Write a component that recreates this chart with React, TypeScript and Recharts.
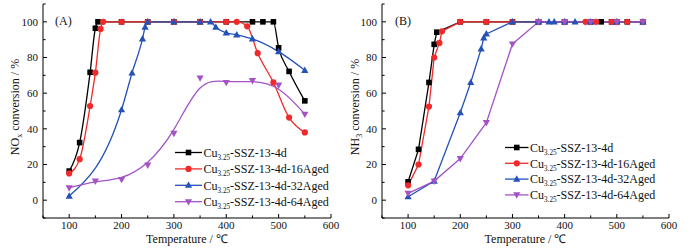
import React from 'react';
import { LineChart, Line, XAxis, YAxis, Legend } from 'recharts';

const FONT = '"Liberation Serif", "Times New Roman", Times, serif';
const TEXT = '#111';

// ---- series meta ----
const legendBase = 'Cu';
const legendSub = '3.25';
const legendSuffix = ['-SSZ-13-4d', '-SSZ-13-4d-16Aged', '-SSZ-13-4d-32Aged', '-SSZ-13-4d-64Aged'];
const colors = ['#000000', '#f02a2a', '#2452b8', '#a453c4'];
const markers = ['square', 'circle', 'triangle', 'triangleDown'];
const curveA = ['monotone', 'monotone', 'monotone', 'basis'];

// ---- axes ----
const xTicks = [50, 100, 150, 200, 250, 300, 350, 400, 450, 500, 550, 600];
const xLabels = [100, 200, 300, 400, 500, 600];
const yTicks = [-10, 0, 10, 20, 30, 40, 50, 60, 70, 80, 90, 100, 110];
const yLabels = [0, 20, 40, 60, 80, 100];

// ---- Panel A: NOx conversion ----
const aT0 = [100, 120, 140, 150, 155, 200, 250, 300, 350, 400, 450, 470, 490, 500, 520, 550];
const aV0 = [16.3, 32.3, 71.7, 96.4, 100, 100, 100, 100, 100, 100, 100, 100, 100, 85.4, 72.2, 55.7];
const aT1 = [100, 120, 140, 150, 160, 165, 200, 250, 300, 350, 400, 420, 440, 460, 490, 520, 550];
const aV1 = [15, 23, 52.8, 71.5, 96, 100, 100, 100, 100, 100, 100, 100, 97.5, 82.4, 66, 46.3, 38];
const aT2 = [100, 200, 220, 240, 245, 250, 300, 350, 370, 380, 400, 420, 450, 500, 550];
const aV2 = [2.3, 50.7, 71.3, 90.4, 97, 100, 100, 100, 100, 97, 93.8, 92.7, 90.4, 83.3, 72.8];
const aT3 = [100, 150, 200, 250, 300, 350, 400, 450, 500, 550];
const aV3 = [6.9, 10.7, 11.6, 19.7, 37.5, 68.5, 66, 67, 64.5, 48.2];

// ---- Panel B: NH3 conversion ----
const bT0 = [100, 120, 140, 150, 155, 200, 250, 300, 350, 400, 450, 470, 490, 500, 520, 550];
const bV0 = [10.3, 28.5, 66, 87.4, 94.2, 100, 100, 100, 100, 100, 100, 100, 100, 100, 100, 100];
const bT1 = [100, 120, 140, 150, 160, 165, 200, 250, 300, 350, 400, 440, 460, 490, 500, 520, 550];
const bV1 = [8.3, 20, 52.5, 80, 88.2, 94.7, 100, 100, 100, 100, 100, 100, 100, 100, 100, 100, 100];
const bT2 = [100, 150, 200, 220, 240, 245, 250, 300, 350, 370, 380, 400, 420, 450, 500, 550];
const bV2 = [1.9, 10.7, 49, 66, 84.8, 91, 93.2, 100, 100, 100, 100, 100, 100, 100, 100, 100];
const bT3 = [100, 150, 200, 250, 300, 350, 400, 450, 500, 550];
const bV3 = [3.8, 10.7, 23.3, 43.5, 87.6, 100, 100, 100, 100, 100];

const zip = (t: number[], v: number[]) => t.map((x, i) => ({ x, y: v[i] }));
const panelA = [zip(aT0, aV0), zip(aT1, aV1), zip(aT2, aV2), zip(aT3, aV3)];
const panelB = [zip(bT0, bV0), zip(bT1, bV1), zip(bT2, bV2), zip(bT3, bV3)];

function Marker({ kind, cx, cy, color }: { kind: string; cx: number; cy: number; color: string }) {
  if (kind === 'square') {
    const s = 5.6;
    return <rect x={cx - s / 2} y={cy - s / 2} width={s} height={s} fill={color} />;
  }
  if (kind === 'circle') {
    return <circle cx={cx} cy={cy} r={3.1} fill={color} />;
  }
  const w = 7.2;
  const h = 6.4;
  if (kind === 'triangle') {
    return (
      <polygon
        points={`${cx},${cy - h * 0.6} ${cx - w / 2},${cy + h * 0.4} ${cx + w / 2},${cy + h * 0.4}`}
        fill={color}
      />
    );
  }
  return (
    <polygon
      points={`${cx},${cy + h * 0.6} ${cx - w / 2},${cy - h * 0.4} ${cx + w / 2},${cy - h * 0.4}`}
      fill={color}
    />
  );
}

const makeDot = (i: number) => (props: any) => {
  const { cx, cy, index } = props;
  if (cx == null || cy == null) return <g key={`d${i}-${index}`} />;
  return (
    <g key={`d${i}-${index}`}>
      <Marker kind={markers[i]} cx={cx} cy={cy} color={colors[i]} />
    </g>
  );
};

const XTick = (props: any) => {
  const { x, y, payload } = props;
  const v = payload.value;
  const major = xLabels.includes(v);
  return (
    <g>
      <line x1={x} x2={x} y1={y} y2={y - (major ? 4 : 2.6)} stroke="#000" strokeWidth={1} />
      {major && (
        <text x={x} y={y + 11} textAnchor="middle" fontSize={11} fontFamily={FONT} fill={TEXT}>
          {v}
        </text>
      )}
    </g>
  );
};

const YTick = (props: any) => {
  const { x, y, payload } = props;
  const v = payload.value;
  const major = yLabels.includes(v);
  return (
    <g>
      <line x1={x} x2={x + (major ? 4 : 2.6)} y1={y} y2={y} stroke="#000" strokeWidth={1} />
      {major && (
        <text x={x - 5} y={y + 3.8} textAnchor="end" fontSize={11} fontFamily={FONT} fill={TEXT}>
          {v}
        </text>
      )}
    </g>
  );
};

function LegendBox({ lineLen, rowGap, firstRow }: { lineLen: number; rowGap: number; firstRow: number }) {
  return (
    <svg width={170} height={70} style={{ overflow: 'visible', display: 'block' }}>
      {legendSuffix.map((s, i) => {
        const cy = firstRow + i * rowGap;
        return (
          <g key={s}>
            <line x1={1} x2={1 + lineLen} y1={cy} y2={cy} stroke={colors[i]} strokeWidth={1.3} />
            <Marker kind={markers[i]} cx={1 + lineLen / 2} cy={cy} color={colors[i]} />
            <text x={lineLen + 2.5} y={cy + 4.3} fontSize={12} fontFamily={FONT} fill={TEXT}>
              <tspan>{legendBase}</tspan>
              <tspan fontSize={7.2} dy={3}>{legendSub}</tspan>
              <tspan dy={-3}>{s}</tspan>
            </text>
          </g>
        );
      })}
    </svg>
  );
}

function Panel({
  data,
  curves,
  yLeft,
  rightMargin,
  panelTag,
  tagX,
  yLabelSub,
  yLabelMain,
  yLabelX,
  legendLeft,
  legendTop,
  legendLine,
  legendGap,
}: any) {
  return (
    <LineChart
      width={345}
      height={252}
      margin={{ top: 4, right: rightMargin, bottom: 0, left: 0 }}
      style={{ fontFamily: FONT }}
    >
      <XAxis
        xAxisId="b"
        dataKey="x"
        type="number"
        domain={[50, 600]}
        ticks={xTicks}
        interval={0}
        tickSize={0}
        tickMargin={0}
        tickLine={false}
        tick={<XTick />}
        height={34}
        axisLine={{ stroke: '#000', strokeWidth: 1 }}
        allowDataOverflow
      />
      <XAxis
        xAxisId="t"
        orientation="top"
        dataKey="x"
        type="number"
        domain={[50, 600]}
        tick={false}
        tickLine={false}
        height={0}
        axisLine={{ stroke: '#000', strokeWidth: 1 }}
      />
      <YAxis
        yAxisId="l"
        type="number"
        domain={[-10, 110]}
        ticks={yTicks}
        interval={0}
        tickSize={0}
        tickMargin={0}
        tickLine={false}
        tick={<YTick />}
        width={yLeft}
        axisLine={{ stroke: '#000', strokeWidth: 1 }}
        allowDataOverflow
      />
      <YAxis
        yAxisId="r"
        orientation="right"
        type="number"
        domain={[-10, 110]}
        tick={false}
        tickLine={false}
        width={0}
        axisLine={{ stroke: '#000', strokeWidth: 1 }}
      />
      {data.map((d: any, i: number) => (
        <Line
          key={i}
          xAxisId="b"
          yAxisId="l"
          data={d}
          dataKey="y"
          type={curves[i]}
          stroke={colors[i]}
          strokeWidth={1.3}
          dot={makeDot(i)}
          activeDot={false}
          isAnimationActive={false}
          legendType="none"
        />
      ))}
      <Legend
        layout="vertical"
        align="center"
        verticalAlign="middle"
        wrapperStyle={{ left: legendLeft, top: legendTop, width: 170, height: 70 }}
        content={() => <LegendBox lineLen={legendLine} rowGap={legendGap} firstRow={8.5} />}
      />
      <text x={tagX} y={25} fontSize={12} fontFamily={FONT} fill={TEXT}>
        {panelTag}
      </text>
      <text
        x={yLabelX}
        y={107}
        transform={`rotate(-90 ${yLabelX} 107)`}
        textAnchor="middle"
        fontSize={12}
        fontFamily={FONT}
        fill={TEXT}
      >
        <tspan>{yLabelMain}</tspan>
        <tspan fontSize={8} dy={3}>{yLabelSub}</tspan>
        <tspan dy={-3}> conversion / %</tspan>
      </text>
      <text x={(yLeft + 345 - rightMargin) / 2} y={243} textAnchor="middle" fontSize={12} fontFamily={FONT} fill={TEXT}>
        Temperature / ℃
      </text>
    </LineChart>
  );
}

export default function App() {
  return (
    <div
      style={{
        position: 'absolute',
        left: 0,
        top: 0,
        width: 690,
        height: 252,
        background: '#fff',
        display: 'flex',
        flexDirection: 'row',
      }}
    >
      <Panel
        data={panelA}
        curves={curveA}
        yLeft={43}
        rightMargin={14}
        panelTag="(A)"
        tagX={55}
        yLabelMain="NO"
        yLabelSub="x"
        yLabelX={19}
        legendLeft={174}
        legendTop={143.5}
        legendLine={27}
        legendGap={16.4}
      />
      <Panel
        data={panelB}
        curves={['linear', 'linear', 'linear', 'linear']}
        yLeft={37}
        rightMargin={21}
        panelTag="(B)"
        tagX={50}
        yLabelMain="NH"
        yLabelSub="3"
        yLabelX={14}
        legendLeft={159}
        legendTop={138.5}
        legendLine={23.5}
        legendGap={15.8}
      />
    </div>
  );
}
